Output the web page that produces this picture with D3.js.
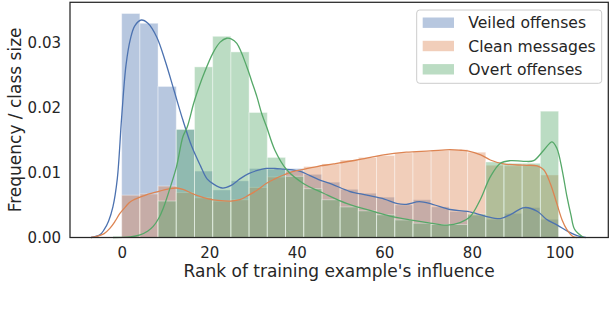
<!DOCTYPE html>
<html>
<head>
<meta charset="utf-8">
<script src="https://cdn.jsdelivr.net/npm/d3@7"></script>
<style>
  body { margin: 0; background: #fff; }
  text { font-family: "DejaVu Sans", sans-serif; fill: #262626; }
</style>
</head>
<body>
<div id="chart"></div>
<script>
// Названия серий и цвета (seaborn deep)
const seriesNames = ["Veiled offenses", "Clean messages", "Overt offenses"];
const seriesColors = ["#4C72B0", "#DD8452", "#55A868"];

// Высоты столбцов гистограммы (24 интервала от 0 до ~100)
const veiledBars = [0.0344, 0.0329, 0.0232, 0.0166, 0.0102, 0.0073, 0.0087, 0.0106, 0.0105, 0.0106, 0.0097, 0.0085,
  0.0074, 0.0068, 0.0062, 0.0050, 0.0058, 0.0047, 0.0040, 0.0034, 0.0028, 0.0037, 0.0046, 0.0028];
const cleanBars = [0.0065, 0.0067, 0.0079, 0.0069, 0.0061, 0.0056, 0.0058, 0.0077, 0.0093, 0.0102, 0.0109, 0.0113,
  0.0119, 0.0123, 0.0126, 0.0130, 0.0132, 0.0134, 0.0135, 0.0131, 0.0111, 0.0110, 0.0111, 0.0096];
const overtBars = [0, 0, 0.0056, 0.0166, 0.0262, 0.0309, 0.0285, 0.0192, 0.0123, 0.0094, 0.0075, 0.0058,
  0.0047, 0.0041, 0.0035, 0.0027, 0.0022, 0.0020, 0.0020, 0.0036, 0.0116, 0.0114, 0.0114, 0.0194];

// Границы интервалов
const binEdges = d3.range(25).map((i) => (i * 99.8) / 24);

// Кривые KDE: [ранг, плотность]
const veiledKde = [[-7, 0], [-5, 0.0004], [-4, 0.0012], [-3, 0.0025], [-2, 0.0047], [-1, 0.0090], [0, 0.0185],
  [1, 0.0265], [2, 0.0305], [3, 0.0325], [4.5, 0.0334], [6, 0.0329], [8, 0.0308], [10, 0.0270], [12, 0.0225],
  [14, 0.0180], [16, 0.0140], [18, 0.0110], [19.5, 0.0090], [21, 0.0082], [23, 0.0076], [25, 0.0080],
  [27, 0.0090], [29, 0.0098], [31, 0.0103], [33, 0.0106], [35, 0.0106], [37, 0.0105], [39, 0.0104],
  [41, 0.0101], [43, 0.0095], [45, 0.0089], [48, 0.0082], [52, 0.0071], [56, 0.0065], [60, 0.0059],
  [63, 0.0052], [65, 0.0051], [68, 0.0055], [71, 0.0051], [75, 0.0043], [79, 0.0040], [83, 0.0033],
  [86.5, 0.0029], [89, 0.0036], [92, 0.0046], [95, 0.0040], [97, 0.0028], [99.5, 0.0019], [102, 0.0009],
  [104, 0.0003], [106, 0]];
const cleanKde = [[-7, 0], [-5.5, 0.0002], [-4, 0.0006], [-2.7, 0.0014], [-1.5, 0.0025], [-0.4, 0.0037],
  [1, 0.0048], [2, 0.0055], [5, 0.0064], [8, 0.0070], [11, 0.0075], [12.5, 0.0076], [14, 0.0074],
  [17, 0.0065], [20, 0.0059], [22, 0.0057], [25, 0.0056], [27, 0.0058], [29, 0.0065], [31, 0.0073],
  [33, 0.0083], [35, 0.0090], [37, 0.0096], [39, 0.0101], [41, 0.0104], [44.6, 0.0109], [48.4, 0.0113],
  [53.7, 0.0119], [59.8, 0.0127], [65, 0.0131], [70.5, 0.0133], [75, 0.0135], [77.5, 0.0134], [79, 0.0133],
  [82, 0.0127], [84.2, 0.0119], [87.2, 0.0113], [91.8, 0.0111], [94.9, 0.0110], [96.4, 0.0104],
  [97.9, 0.0083], [99.4, 0.0052], [100.6, 0.0027], [101.7, 0.0012], [103, 0.0002], [104, 0]];
const overtKde = [[-2, 0], [2, 0.0001], [4.2, 0.0004], [6, 0.0010], [7.2, 0.0017], [8.5, 0.0030],
  [9.5, 0.0045], [11, 0.0075], [12.5, 0.0108], [14, 0.0155], [15, 0.0170], [16.4, 0.0205], [17.1, 0.0220],
  [18.7, 0.0250], [20.9, 0.0284], [22.5, 0.0300], [24, 0.0306], [25, 0.0305], [26.3, 0.0298], [28.6, 0.0262],
  [29.7, 0.0240], [30.9, 0.0216], [32, 0.0190], [33.1, 0.0170], [35, 0.0134], [37.7, 0.0104], [41.5, 0.0083],
  [46.1, 0.0068], [51.5, 0.0052], [57.5, 0.0040], [61.3, 0.0033], [65.9, 0.0027], [70.5, 0.0022],
  [74.3, 0.0019], [77.3, 0.0023], [79.6, 0.0032], [81.9, 0.0058], [84.2, 0.0093], [86.5, 0.0114],
  [88.8, 0.0118], [91.8, 0.0117], [94.1, 0.0118], [96.4, 0.0134], [98.3, 0.0147], [99.4, 0.0137],
  [100.6, 0.0104], [101.7, 0.0063], [102.6, 0.0035], [103.5, 0.0012], [105.5, 0]];

// Подписи делений
const xTicks = [0, 20, 40, 60, 80, 100];
const yTicks = [0, 0.01, 0.02, 0.03];

const barsBySeries = [veiledBars, cleanBars, overtBars];
const kdeBySeries = [veiledKde, cleanKde, overtKde];

// Размеры
const width = 610, height = 314;
const plot = { left: 70, right: 608.3, top: 2.3, bottom: 237.5 };

const svg = d3.select("#chart").append("svg")
  .attr("width", width).attr("height", height);

const x = d3.scaleLinear().domain([-11.8, 111.15]).range([plot.left, plot.right]);
const y = d3.scaleLinear().domain([0, 0.03612]).range([plot.bottom, plot.top]);

// Столбцы
barsBySeries.forEach((bars, s) => {
  svg.append("g")
    .selectAll("rect")
    .data(bars.map((v, i) => ({ v, i })).filter((d) => d.v > 0))
    .enter()
    .append("rect")
    .attr("x", (d) => x(binEdges[d.i]))
    .attr("width", (d) => x(binEdges[d.i + 1]) - x(binEdges[d.i]))
    .attr("y", (d) => y(d.v))
    .attr("height", (d) => y(0) - y(d.v))
    .attr("fill", seriesColors[s])
    .attr("fill-opacity", 0.4)
    .attr("stroke", "#fff")
    .attr("stroke-opacity", 0.4)
    .attr("stroke-width", 1);
});

// Линии KDE
const line = d3.line()
  .x((d) => x(d[0]))
  .y((d) => y(d[1]))
  .curve(d3.curveCatmullRom.alpha(0.5));

kdeBySeries.forEach((kde, s) => {
  svg.append("path")
    .datum(kde)
    .attr("fill", "none")
    .attr("stroke", seriesColors[s])
    .attr("stroke-width", 1.3)
    .attr("d", line);
});

// Оси
const xAxis = svg.append("g")
  .attr("transform", `translate(0,${plot.bottom})`)
  .call(d3.axisBottom(x).tickValues(xTicks).tickSize(0).tickPadding(0).tickFormat(d3.format("d")));
xAxis.select(".domain").remove();
xAxis.selectAll("text")
  .attr("y", 20.7).attr("dy", null)
  .style("font-size", "15px").attr("fill", "#262626");

const yAxis = svg.append("g")
  .attr("transform", `translate(${plot.left},0)`)
  .call(d3.axisLeft(y).tickValues(yTicks).tickSize(0).tickPadding(0).tickFormat(d3.format(".2f")));
yAxis.select(".domain").remove();
yAxis.selectAll("text")
  .attr("x", -9).attr("dy", "0.36em")
  .style("font-size", "15px").attr("fill", "#262626");

// Рамка
svg.append("rect")
  .attr("x", plot.left).attr("y", plot.top)
  .attr("width", plot.right - plot.left).attr("height", plot.bottom - plot.top)
  .attr("fill", "none").attr("stroke", "#262626").attr("stroke-width", 1.25);

// Подписи осей
svg.append("text")
  .attr("x", (plot.left + plot.right) / 2).attr("y", 277.3)
  .attr("text-anchor", "middle")
  .style("font-size", "17px")
  .text("Rank of training example's influence");

svg.append("text")
  .attr("transform", `translate(21,${(plot.top + plot.bottom) / 2}) rotate(-90)`)
  .attr("text-anchor", "middle")
  .style("font-size", "17px")
  .text("Frequency / class size");

// Легенда
const legend = svg.append("g");
legend.append("rect")
  .attr("x", 416.7).attr("y", 10).attr("width", 185).attr("height", 73.3)
  .attr("rx", 3)
  .attr("fill", "#fff").attr("fill-opacity", 0.8)
  .attr("stroke", "#ccc").attr("stroke-width", 1);

seriesNames.forEach((name, i) => {
  const cy = 22.7 + i * 23.3;
  legend.append("rect")
    .attr("x", 422.7).attr("y", cy - 5.2).attr("width", 31.3).attr("height", 10.4)
    .attr("fill", seriesColors[i]).attr("fill-opacity", 0.4);
  legend.append("text")
    .attr("x", 468.3).attr("y", cy + 5.6)
    .style("font-size", "15.6px")
    .text(name);
});
</script>
</body>
</html>
